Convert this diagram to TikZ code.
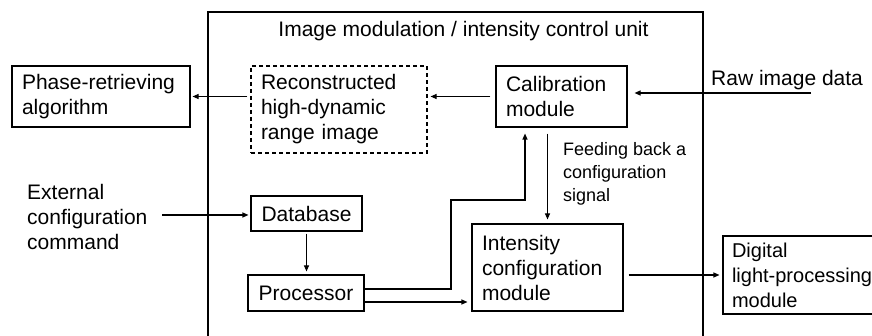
\documentclass[tikz,border=0pt]{standalone}
\usepackage{fontspec}
\setmainfont{Liberation Sans}
\usetikzlibrary{arrows.meta,calc}
\begin{document}
\begin{tikzpicture}[x=1pt,y=-1pt,
  every node/.style={font=\fontsize{21}{25}\selectfont},
  box/.style={draw, line width=1.1pt, inner xsep=10pt, inner ysep=0pt, align=left},
  conn/.style={line width=1.1pt, -{Triangle[length=6pt,width=5pt]}},
  frameline/.style={line width=1.1pt}]
\useasboundingbox (0,0) rectangle (872,336);
\clip (0,0) rectangle (872,336);
% outer unit
\draw[frameline] (208,345) -- (208,12) -- (703,12) -- (703,345);
\node[anchor=base] (title) at (463.5,37) {Image modulation / intensity control unit};
% boxes
\node[box, text width=158pt, minimum height=61pt] (phase) at (101,96.5) {Phase-retrieving\\algorithm};
\node[box, dashed, dash pattern=on 4pt off 3pt, text width=156pt, minimum height=87pt] (recon) at (339,109.5) {Reconstructed\\high-dynamic\\range image};
\node[box, text width=111pt, minimum height=61pt] (calib) at (561.5,96.5) {Calibration\\module};
\node[box, inner xsep=0pt, minimum width=111pt, minimum height=35pt] (db) at (306.5,213.5) {Database};
\node[box, inner xsep=0pt, minimum width=116pt, minimum height=36pt] (proc) at (306,293) {Processor};
\node[box, text width=131pt, minimum height=87pt] (int) at (547.5,267.5) {Intensity\\configuration\\module};
\node[box, inner xsep=9pt, text width=148pt, minimum height=78pt, font=\fontsize{20}{25}\selectfont] (dlp) at (806,275) {Digital\\light-processing\\module};
% free labels
\node[anchor=base west, inner sep=0pt] (raw) at (711,86) {Raw image data};
\node[anchor=west, align=left, inner sep=0pt] (ext) at (27,217) {External\\configuration\\command};
\node[anchor=west, align=left, inner sep=0pt, font=\fontsize{18}{23}\selectfont] (feed) at (563,174) {Feeding back a\\configuration\\signal};
\coordinate (rawin) at (811,93);
\coordinate (extout) at (162,215);
\coordinate (bend) at (451,200);
% connectors
\draw[conn, shorten >=7pt] (rawin) -- (rawin -| calib.east);
\draw[conn, shorten <=5pt, shorten >=3pt] (calib.west) -- (calib.west -| recon.east);
\draw[conn, shorten <=3pt, shorten >=2pt] (recon.west |- phase.east) -- (phase.east);
\draw[conn, shorten <=6pt, shorten >=4pt] (int.north |- calib.south) -- (int.north);
\draw[conn] ([yshift=4pt]proc.east) -| (bend) -| ([xshift=-36.5pt,yshift=-6pt]calib.south);
\draw[conn, shorten >=4pt] ([yshift=-9pt]proc.east) -- ([yshift=-9pt]proc.east -| int.west);
\draw[conn, shorten <=2pt, shorten >=3pt] (db.south) -- (db.south |- proc.north);
\draw[conn, shorten >=2pt] (extout) -- (extout -| db.west);
\draw[conn, shorten <=5pt, shorten >=3pt] (int.east |- dlp.west) -- (dlp.west);
\end{tikzpicture}
\end{document}
